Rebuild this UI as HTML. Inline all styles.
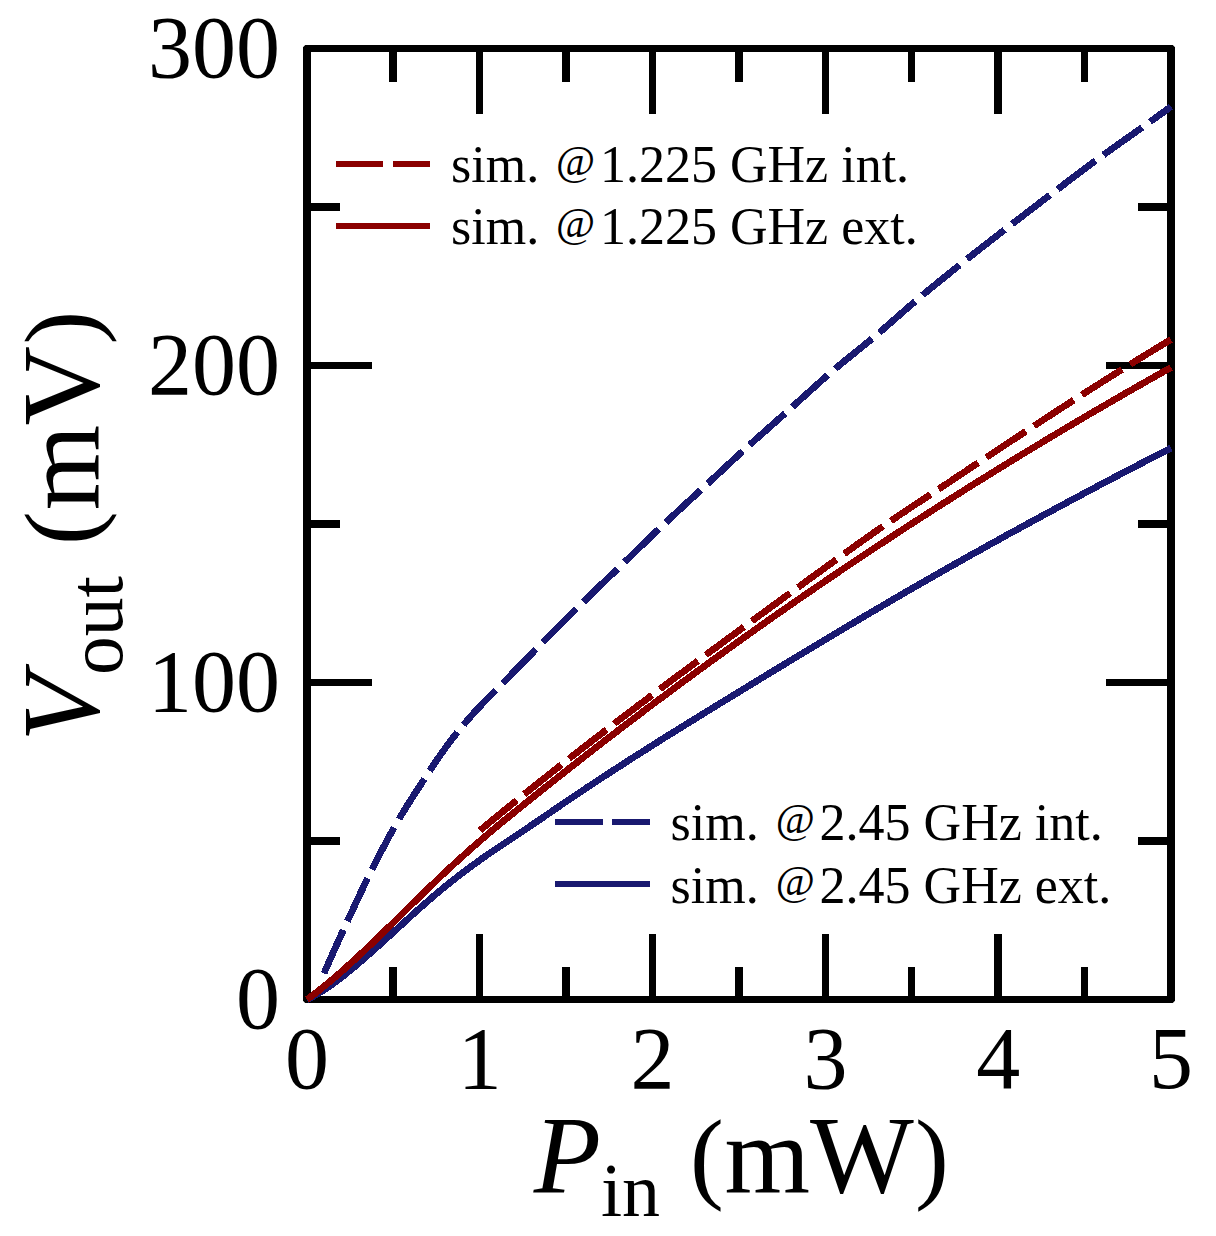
<!DOCTYPE html>
<html><head><meta charset="utf-8"><title>chart</title>
<style>
html,body{margin:0;padding:0;background:#fff;}
body{width:1216px;height:1236px;overflow:hidden;}
svg{display:block;}
text{font-family:"Liberation Serif",serif;fill:#000;}
</style></head><body>
<svg width="1216" height="1236" viewBox="0 0 1216 1236">
<rect x="0" y="0" width="1216" height="1236" fill="#fff"/>

<g fill="#000" shape-rendering="crispEdges">
<path fill-rule="evenodd" d="M303,45H1175V1003H303Z M311,52H1167V996H311Z"/>
<path fill="#fff" shape-rendering="geometricPrecision" d="M303,45h2.2l-2.2,2.2z M1175,45v2.2l-2.2,-2.2z M1175,1003h-2.2l2.2,-2.2z M303,1003v-2.2l2.2,2.2z"/>
<rect x="389" y="52" width="8" height="30"/>
<rect x="389" y="967" width="8" height="29"/>
<rect x="476" y="52" width="7" height="62"/>
<rect x="476" y="934" width="7" height="62"/>
<rect x="562" y="52" width="8" height="30"/>
<rect x="562" y="967" width="8" height="29"/>
<rect x="649" y="52" width="7" height="62"/>
<rect x="649" y="934" width="7" height="62"/>
<rect x="735" y="52" width="8" height="30"/>
<rect x="735" y="967" width="8" height="29"/>
<rect x="822" y="52" width="7" height="62"/>
<rect x="822" y="934" width="7" height="62"/>
<rect x="908" y="52" width="7" height="30"/>
<rect x="908" y="967" width="7" height="29"/>
<rect x="994" y="52" width="8" height="62"/>
<rect x="994" y="934" width="8" height="62"/>
<rect x="1081" y="52" width="7" height="30"/>
<rect x="1081" y="967" width="7" height="29"/>
<rect x="311" y="203" width="29" height="8"/>
<rect x="1138" y="203" width="29" height="8"/>
<rect x="311" y="362" width="61" height="7"/>
<rect x="1106" y="362" width="61" height="7"/>
<rect x="311" y="520" width="29" height="8"/>
<rect x="1138" y="520" width="29" height="8"/>
<rect x="311" y="679" width="61" height="7"/>
<rect x="1106" y="679" width="61" height="7"/>
<rect x="311" y="837" width="29" height="8"/>
<rect x="1138" y="837" width="29" height="8"/>
</g>
<g fill="none" stroke-width="6.8" stroke-linejoin="round" stroke-linecap="butt" shape-rendering="crispEdges">
<path d="M307.0,999.5 L312.0,997.0 L317.0,994.3 L322.0,991.2 L327.0,988.0 L332.0,984.5 L337.0,980.8 L342.0,977.0 L347.0,973.0 L352.0,968.9 L357.0,964.7 L362.0,960.4 L367.0,956.0 L372.0,951.6 L377.0,947.1 L382.0,942.6 L387.0,938.0 L392.0,933.5 L397.0,928.9 L402.0,924.3 L407.0,919.8 L412.0,915.2 L417.0,910.7 L422.0,906.3 L427.0,901.9 L432.0,897.5 L437.0,893.3 L442.0,889.1 L447.0,885.0 L452.0,881.0 L457.0,877.1 L462.0,873.2 L467.0,869.5 L472.0,865.8 L477.0,862.2 L482.0,858.6 L487.0,855.1 L492.0,851.7 L497.0,848.3 L502.0,845.0 L507.0,841.6 L512.0,838.3 L517.0,835.0 L522.0,831.7 L527.0,828.3 L532.0,824.9 L537.0,821.5 L542.0,818.1 L547.0,814.7 L552.0,811.3 L557.0,807.8 L562.0,804.4 L567.0,801.0 L572.0,797.7 L577.0,794.3 L582.0,791.0 L587.0,787.6 L592.0,784.3 L597.0,781.0 L602.0,777.7 L607.0,774.5 L612.0,771.2 L617.0,768.0 L622.0,764.8 L627.0,761.5 L632.0,758.3 L637.0,755.1 L642.0,752.0 L647.0,748.8 L652.0,745.6 L657.0,742.5 L662.0,739.3 L667.0,736.2 L672.0,733.1 L677.0,730.0 L682.0,726.9 L687.0,723.8 L692.0,720.7 L697.0,717.6 L702.0,714.5 L707.0,711.4 L712.0,708.4 L717.0,705.3 L722.0,702.2 L727.0,699.2 L732.0,696.1 L737.0,693.1 L742.0,690.0 L747.0,687.0 L752.0,683.9 L757.0,680.9 L762.0,677.8 L767.0,674.8 L772.0,671.7 L777.0,668.7 L782.0,665.7 L787.0,662.6 L792.0,659.6 L797.0,656.6 L802.0,653.6 L807.0,650.6 L812.0,647.6 L817.0,644.6 L822.0,641.6 L827.0,638.6 L832.0,635.6 L837.0,632.6 L842.0,629.6 L847.0,626.6 L852.0,623.7 L857.0,620.7 L862.0,617.7 L867.0,614.8 L872.0,611.8 L877.0,608.9 L882.0,606.0 L887.0,603.1 L892.0,600.1 L897.0,597.2 L902.0,594.3 L907.0,591.4 L912.0,588.5 L917.0,585.6 L922.0,582.8 L927.0,579.9 L932.0,577.1 L937.0,574.2 L942.0,571.4 L947.0,568.5 L952.0,565.7 L957.0,562.9 L962.0,560.1 L967.0,557.2 L972.0,554.4 L977.0,551.7 L982.0,548.9 L987.0,546.1 L992.0,543.3 L997.0,540.6 L1002.0,537.8 L1007.0,535.0 L1012.0,532.3 L1017.0,529.6 L1022.0,526.8 L1027.0,524.1 L1032.0,521.4 L1037.0,518.7 L1042.0,515.9 L1047.0,513.2 L1052.0,510.6 L1057.0,507.9 L1062.0,505.2 L1067.0,502.5 L1072.0,499.8 L1077.0,497.2 L1082.0,494.5 L1087.0,491.8 L1092.0,489.2 L1097.0,486.5 L1102.0,483.9 L1107.0,481.3 L1112.0,478.6 L1117.0,476.0 L1122.0,473.4 L1127.0,470.8 L1132.0,468.2 L1137.0,465.6 L1142.0,463.0 L1147.0,460.4 L1152.0,457.8 L1157.0,455.2 L1162.0,452.6 L1167.0,450.1 L1171.0,448.0" stroke="#191970"/>
<path d="M324.0,973.3 L329.0,962.0 L334.0,950.7 L339.0,939.6 L344.0,928.7 L349.0,917.8 L354.0,907.0 L359.0,896.3 L364.0,885.8 L369.0,875.5 L374.0,865.5 L379.0,855.7 L384.0,846.1 L389.0,836.8 L394.0,827.7 L399.0,819.0 L404.0,810.7 L409.0,802.7 L414.0,794.9 L419.0,787.2 L424.0,779.6 L429.0,771.9 L434.0,764.3 L439.0,756.9 L444.0,749.9 L449.0,743.1 L454.0,736.5 L459.0,730.3 L464.0,724.2 L469.0,718.4 L474.0,712.8 L479.0,707.3 L484.0,702.1 L489.0,697.1 L494.0,692.1 L499.0,687.1 L504.0,682.0 L509.0,676.9 L514.0,671.7 L519.0,666.6 L524.0,661.4 L529.0,656.3 L534.0,651.2 L539.0,646.1 L544.0,641.0 L549.0,636.0 L554.0,631.0 L559.0,625.9 L564.0,620.9 L569.0,616.0 L574.0,611.0 L579.0,606.1 L584.0,601.2 L589.0,596.3 L594.0,591.5 L599.0,586.7 L604.0,581.9 L609.0,577.1 L614.0,572.3 L619.0,567.5 L624.0,562.7 L629.0,557.9 L634.0,553.0 L639.0,548.1 L644.0,543.3 L649.0,538.4 L654.0,533.6 L659.0,528.9 L664.0,524.1 L669.0,519.4 L674.0,514.8 L679.0,510.2 L684.0,505.5 L689.0,500.9 L694.0,496.3 L699.0,491.7 L704.0,487.1 L709.0,482.5 L714.0,477.8 L719.0,473.2 L724.0,468.5 L729.0,463.8 L734.0,459.2 L739.0,454.6 L744.0,450.0 L749.0,445.5 L754.0,441.0 L759.0,436.5 L764.0,432.1 L769.0,427.7 L774.0,423.2 L779.0,418.8 L784.0,414.4 L789.0,409.9 L794.0,405.4 L799.0,400.9 L804.0,396.4 L809.0,391.9 L814.0,387.4 L819.0,382.9 L824.0,378.4 L829.0,374.1 L834.0,369.8 L839.0,365.6 L844.0,361.5 L849.0,357.4 L854.0,353.4 L859.0,349.3 L864.0,345.3 L869.0,341.2 L874.0,337.0 L879.0,332.8 L884.0,328.5 L889.0,324.1 L894.0,319.8 L899.0,315.4 L904.0,311.0 L909.0,306.7 L914.0,302.4 L919.0,298.1 L924.0,294.0 L929.0,289.8 L934.0,285.7 L939.0,281.6 L944.0,277.6 L949.0,273.6 L954.0,269.5 L959.0,265.5 L964.0,261.5 L969.0,257.6 L974.0,253.6 L979.0,249.7 L984.0,245.8 L989.0,241.9 L994.0,238.0 L999.0,234.1 L1004.0,230.3 L1009.0,226.4 L1014.0,222.5 L1019.0,218.7 L1024.0,214.9 L1029.0,211.0 L1034.0,207.2 L1039.0,203.4 L1044.0,199.6 L1049.0,195.8 L1054.0,192.0 L1059.0,188.2 L1064.0,184.4 L1069.0,180.6 L1074.0,176.8 L1079.0,173.0 L1084.0,169.3 L1089.0,165.5 L1094.0,161.8 L1099.0,158.2 L1104.0,154.5 L1109.0,150.9 L1114.0,147.4 L1119.0,143.8 L1124.0,140.3 L1129.0,136.8 L1134.0,133.2 L1139.0,129.7 L1144.0,126.1 L1149.0,122.5 L1154.0,118.9 L1159.0,115.3 L1164.0,111.7 L1169.0,108.1 L1171.0,106.7" stroke="#191970" stroke-dasharray="47.5 9.7"/>
<path d="M307.0,999.5 L312.0,995.8 L317.0,992.0 L322.0,988.0 L327.0,983.9 L332.0,979.8 L337.0,975.5 L342.0,971.1 L347.0,966.6 L352.0,962.1 L357.0,957.5 L362.0,952.8 L367.0,948.1 L372.0,943.3 L377.0,938.5 L382.0,933.7 L387.0,928.8 L392.0,923.9 L397.0,919.0 L402.0,914.1 L407.0,909.2 L412.0,904.2 L417.0,899.3 L422.0,894.5 L427.0,889.6 L432.0,884.8 L437.0,880.0 L442.0,875.2 L447.0,870.6 L452.0,865.9 L457.0,861.3 L462.0,856.8 L467.0,852.3 L472.0,847.8 L477.0,843.5 L482.0,839.1 L487.0,834.9 L492.0,830.6 L497.0,826.5 L502.0,822.3 L507.0,818.2 L512.0,814.2 L517.0,810.1 L522.0,806.1 L527.0,802.0 L532.0,798.0 L537.0,794.0 L542.0,790.0 L547.0,786.0 L552.0,782.1 L557.0,778.1 L562.0,774.2 L567.0,770.2 L572.0,766.3 L577.0,762.4 L582.0,758.5 L587.0,754.6 L592.0,750.7 L597.0,746.8 L602.0,742.9 L607.0,739.1 L612.0,735.2 L617.0,731.4 L622.0,727.6 L627.0,723.8 L632.0,720.0 L637.0,716.2 L642.0,712.4 L647.0,708.6 L652.0,704.9 L657.0,701.1 L662.0,697.4 L667.0,693.7 L672.0,690.0 L677.0,686.3 L682.0,682.6 L687.0,678.9 L692.0,675.2 L697.0,671.5 L702.0,667.9 L707.0,664.3 L712.0,660.6 L717.0,657.0 L722.0,653.4 L727.0,649.8 L732.0,646.2 L737.0,642.6 L742.0,639.0 L747.0,635.5 L752.0,631.9 L757.0,628.4 L762.0,624.9 L767.0,621.3 L772.0,617.8 L777.0,614.3 L782.0,610.8 L787.0,607.4 L792.0,603.9 L797.0,600.4 L802.0,597.0 L807.0,593.5 L812.0,590.1 L817.0,586.7 L822.0,583.3 L827.0,579.9 L832.0,576.5 L837.0,573.1 L842.0,569.7 L847.0,566.4 L852.0,563.0 L857.0,559.7 L862.0,556.3 L867.0,553.0 L872.0,549.7 L877.0,546.4 L882.0,543.1 L887.0,539.8 L892.0,536.5 L897.0,533.2 L902.0,530.0 L907.0,526.7 L912.0,523.5 L917.0,520.3 L922.0,517.0 L927.0,513.8 L932.0,510.6 L937.0,507.4 L942.0,504.2 L947.0,501.1 L952.0,497.9 L957.0,494.7 L962.0,491.6 L967.0,488.4 L972.0,485.3 L977.0,482.2 L982.0,479.1 L987.0,476.0 L992.0,472.9 L997.0,469.8 L1002.0,466.7 L1007.0,463.6 L1012.0,460.5 L1017.0,457.5 L1022.0,454.4 L1027.0,451.4 L1032.0,448.4 L1037.0,445.4 L1042.0,442.4 L1047.0,439.3 L1052.0,436.4 L1057.0,433.4 L1062.0,430.4 L1067.0,427.4 L1072.0,424.5 L1077.0,421.5 L1082.0,418.6 L1087.0,415.6 L1092.0,412.7 L1097.0,409.8 L1102.0,406.9 L1107.0,404.0 L1112.0,401.1 L1117.0,398.2 L1122.0,395.3 L1127.0,392.4 L1132.0,389.6 L1137.0,386.7 L1142.0,383.9 L1147.0,381.0 L1152.0,378.2 L1157.0,375.4 L1162.0,372.5 L1167.0,369.7 L1171.0,367.5" stroke="#8b0000"/>
<path d="M479.9,830.5 L484.9,826.4 L489.9,822.2 L494.9,818.1 L499.9,814.0 L504.9,809.9 L509.9,805.9 L514.9,801.8 L519.9,797.8 L524.9,793.7 L529.9,789.7 L534.9,785.7 L539.9,781.7 L544.9,777.8 L549.9,773.8 L554.9,769.8 L559.9,765.9 L564.9,762.0 L569.9,758.0 L574.9,754.1 L579.9,750.2 L584.9,746.4 L589.9,742.5 L594.9,738.6 L599.9,734.8 L604.9,730.9 L609.9,727.1 L614.9,723.2 L619.9,719.4 L624.9,715.6 L629.9,711.8 L634.9,708.0 L639.9,704.2 L644.9,700.5 L649.9,696.7 L654.9,692.9 L659.9,689.2 L664.9,685.4 L669.9,681.7 L674.9,677.9 L679.9,674.2 L684.9,670.5 L689.9,666.8 L694.9,663.0 L699.9,659.3 L704.9,655.6 L709.9,651.9 L714.9,648.2 L719.9,644.6 L724.9,640.9 L729.9,637.2 L734.9,633.5 L739.9,629.8 L744.9,626.2 L749.9,622.5 L754.9,618.8 L759.9,615.2 L764.9,611.5 L769.9,607.9 L774.9,604.2 L779.9,600.6 L784.9,596.9 L789.9,593.3 L794.9,589.6 L799.9,586.0 L804.9,582.4 L809.9,578.7 L814.9,575.1 L819.9,571.5 L824.9,567.8 L829.9,564.2 L834.9,560.6 L839.9,556.9 L844.9,553.3 L849.9,549.7 L854.9,546.1 L859.9,542.5 L864.9,539.0 L869.9,535.5 L874.9,531.9 L879.9,528.5 L884.9,525.0 L889.9,521.6 L894.9,518.2 L899.9,514.8 L904.9,511.5 L909.9,508.1 L914.9,504.8 L919.9,501.5 L924.9,498.2 L929.9,494.9 L934.9,491.6 L939.9,488.3 L944.9,485.0 L949.9,481.7 L954.9,478.3 L959.9,475.0 L964.9,471.7 L969.9,468.3 L974.9,465.0 L979.9,461.7 L984.9,458.4 L989.9,455.0 L994.9,451.7 L999.9,448.4 L1004.9,445.1 L1009.9,441.8 L1014.9,438.5 L1019.9,435.2 L1024.9,431.9 L1029.9,428.6 L1034.9,425.3 L1039.9,422.1 L1044.9,418.8 L1049.9,415.5 L1054.9,412.3 L1059.9,409.0 L1064.9,405.8 L1069.9,402.6 L1074.9,399.3 L1079.9,396.1 L1084.9,392.9 L1089.9,389.7 L1094.9,386.6 L1099.9,383.4 L1104.9,380.2 L1109.9,377.1 L1114.9,373.9 L1119.9,370.8 L1124.9,367.7 L1129.9,364.6 L1134.9,361.5 L1139.9,358.4 L1144.9,355.3 L1149.9,352.3 L1154.9,349.2 L1159.9,346.2 L1164.9,343.2 L1169.9,340.2 L1171.0,339.5" stroke="#8b0000" stroke-dasharray="47.5 9.7"/>
</g>
<g shape-rendering="crispEdges">
<path d="M336,161h47v6h-47z M393,161h37v6h-37z M336,223h94v6h-94z" fill="#8b0000"/>
<path d="M555,819h48v6h-48z M612,819h38v6h-38z M555,881h95v6h-95z" fill="#191970"/>
</g>
<g font-size="52px">
<text x="451" y="181.8">sim.</text>
<text x="556.03" y="174.74" font-size="42.5px">@</text>
<text x="600.00" y="181.8">1.225 GHz int.</text>
<text x="451" y="244.4">sim.</text>
<text x="556.03" y="237.34" font-size="42.5px">@</text>
<text x="600.00" y="244.4">1.225 GHz ext.</text>
<text x="670.6" y="840.2">sim.</text>
<text x="775.63" y="833.14" font-size="42.5px">@</text>
<text x="819.60" y="840.2">2.45 GHz int.</text>
<text x="670.6" y="902.5">sim.</text>
<text x="775.63" y="895.44" font-size="42.5px">@</text>
<text x="819.60" y="902.5">2.45 GHz ext.</text>
</g>
<g font-size="88px">
<text x="280" y="1027.5" text-anchor="end">0</text>
<text x="280" y="710.5" text-anchor="end">100</text>
<text x="280" y="393.5" text-anchor="end">200</text>
<text x="280" y="76.5" text-anchor="end">300</text>
<text x="307.0" y="1088.4" text-anchor="middle">0</text>
<text x="479.8" y="1088.4" text-anchor="middle">1</text>
<text x="652.6" y="1088.4" text-anchor="middle">2</text>
<text x="825.4" y="1088.4" text-anchor="middle">3</text>
<text x="998.2" y="1088.4" text-anchor="middle">4</text>
<text x="1171.0" y="1088.4" text-anchor="middle">5</text>
</g>
<text x="533.7" y="1192.4" font-size="110px" font-style="italic">P</text>
<text x="601.0" y="1216.4" font-size="76.0px">in</text>
<text x="690.0" y="1190.1000000000001" font-size="101.5px">(</text>
<text x="724.5" y="1192.4" font-size="110px">m</text>
<text x="810.0" y="1192.4" font-size="110px">W</text>
<text x="915.0" y="1190.1000000000001" font-size="101.5px">)</text>
<g transform="rotate(-90)">
<text x="-741.5" y="98.0" font-size="110px" font-style="italic">V</text>
<text x="-675.0" y="122.0" font-size="77.5px">out</text>
<text x="-545.0" y="95.2" font-size="101.5px">(</text>
<text x="-510.2" y="98.0" font-size="110px">m</text>
<text x="-425.6" y="98.0" font-size="110px">V</text>
<text x="-344.6" y="95.2" font-size="101.5px">)</text>
</g>
</svg></body></html>
